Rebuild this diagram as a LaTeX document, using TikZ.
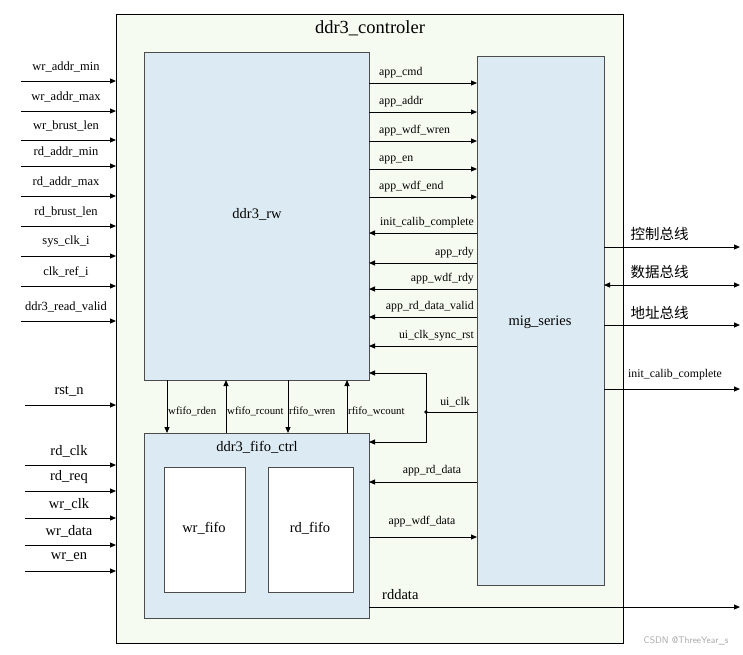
\documentclass[tikz,border=0pt]{standalone}
\usepackage{fontspec}
\setmainfont{Liberation Serif}
\newfontfamily\cjk{Noto Sans CJK SC}
\usetikzlibrary{arrows.meta}
\definecolor{outerbg}{HTML}{F6FBF1}
\definecolor{blk}{HTML}{DCEBF3}
\begin{document}
\begin{tikzpicture}[x=1pt,y=-1pt,
  box/.style={draw=black!70,line width=0.8pt,fill=blk},
  sig/.style={-{Triangle[length=6pt,width=5pt]},line width=1pt},
  lbl/.style={font=\fontsize{11.8}{13}\selectfont,inner sep=1pt},
  blbl/.style={font=\fontsize{14.5}{16}\selectfont,inner sep=1pt}]
\useasboundingbox (0,0) rectangle (743,654);
\draw[line width=1pt,fill=outerbg] (116,14) rectangle (623,643);
\node[font=\fontsize{18.5}{20}\selectfont] (title) at (370,28) {ddr3\_controler};
\node[box,minimum width=225,minimum height=328,anchor=north west] (rw) at (144,52) {};
\node[blbl] at (257,214) {ddr3\_rw};
\node[box,minimum width=127,minimum height=529,anchor=north west] (mig) at (477,56) {};
\node[blbl] at (540,322) {mig\_series};
\node[box,minimum width=225,minimum height=185,anchor=north west] (fifo) at (144,433) {};
\node[blbl] at (257,447) {ddr3\_fifo\_ctrl};
\node[draw=black!70,line width=0.8pt,fill=white,minimum width=81,minimum height=125,anchor=north west] (wf) at (164,467) {};
\node[blbl] at (204,528) {wr\_fifo};
\node[draw=black!70,line width=0.8pt,fill=white,minimum width=85,minimum height=125,anchor=north west] (rf) at (268,467) {};
\node[blbl] at (310,528) {rd\_fifo};
% left inputs
\foreach \y/\t in {81/wr\_addr\_min,111/wr\_addr\_max,140/wr\_brust\_len,166/rd\_addr\_min,196/rd\_addr\_max,226/rd\_brust\_len,256/sys\_clk\_i,286/clk\_ref\_i,321/ddr3\_read\_valid}{
  \coordinate (s) at (21,\y); \coordinate (e) at (116,\y);
  \draw[sig] (s) -- (e);
  \node[lbl,font=\fontsize{12.5}{13}\selectfont] at (66,\y-14) {\t};}
\foreach \y/\t in {405/rst\_n,465/rd\_clk,491/rd\_req,518/wr\_clk,545/wr\_data,571/wr\_en}{
  \coordinate (s) at (25,\y); \coordinate (e) at (116,\y);
  \draw[sig] (s) -- (e);
  \node[blbl] at (69,\y-14) {\t};}
% rw -> mig
\foreach \y/\t in {83/app\_cmd,112/app\_addr,141/app\_wdf\_wren,169/app\_en,197/app\_wdf\_end}{
  \coordinate (s) at (369,\y); \coordinate (e) at (477,\y);
  \draw[sig] (s) -- (e);
  \node[lbl,anchor=south west] at (378,\y-4) {\t};}
\foreach \y/\t in {233/init\_calib\_complete,263/app\_rdy,289/app\_wdf\_rdy,317/app\_rd\_data\_valid,346/ui\_clk\_sync\_rst}{
  \coordinate (s) at (477,\y); \coordinate (e) at (369,\y);
  \draw[sig] (s) -- (e);
  \node[lbl,anchor=south east] at (475,\y-4) {\t};}
% ui_clk
\coordinate (j) at (426,412);
\coordinate (mu) at (477,412);
\draw[line width=1pt] (mu) -- (j);
\fill (j) circle (1.8);
\draw[sig] (j) |- (369,373);
\draw[sig] (j) |- (369,442);
\node[lbl,anchor=south] at (455,408) {ui\_clk};
% fifo <-> mig
\draw[sig] (477,482) -- (369,482);
\node[lbl,anchor=south] at (432,477) {app\_rd\_data};
\draw[sig] (369,537) -- (477,537);
\node[lbl,anchor=south] at (422,528) {app\_wdf\_data};
\coordinate (rdo) at (740,607);
\draw[sig] (369,607) -- (rdo);
\node[blbl,anchor=south west] at (381,601) {rddata};
% vertical
\draw[sig] (167,380) -- (167,433);
\draw[sig] (226,433) -- (226,380);
\draw[sig] (288,380) -- (288,433);
\draw[sig] (347,433) -- (347,380);
\foreach \x/\t in {167/wfifo\_rden,226/wfifo\_rcount,288/rfifo\_wren,347/rfifo\_wcount}
  \node[lbl,anchor=west,font=\fontsize{10.8}{11}\selectfont] at (\x,411) {\t};
% right outputs
\draw[sig] (604,247) -- (740,247);
\draw[{Triangle[length=6pt,width=5pt]}-{Triangle[length=6pt,width=5pt]},line width=1pt] (604,285) -- (740,285);
\draw[sig] (604,325) -- (740,325);
\draw[sig] (604,389) -- (740,389);
\node[anchor=west,font=\cjk\fontsize{14.5}{16}\selectfont] at (627,234) {控制总线};
\node[anchor=west,font=\cjk\fontsize{14.5}{16}\selectfont] at (627,272) {数据总线};
\node[anchor=west,font=\cjk\fontsize{14.5}{16}\selectfont] at (627,313) {地址总线};
\node[lbl,anchor=west] at (627,375) {init\_calib\_complete};
\node[font=\sffamily\fontsize{9.5}{10}\selectfont,text=black!35,anchor=east] at (732,641) {CSDN @ThreeYear\_s};
\end{tikzpicture}
\end{document}
